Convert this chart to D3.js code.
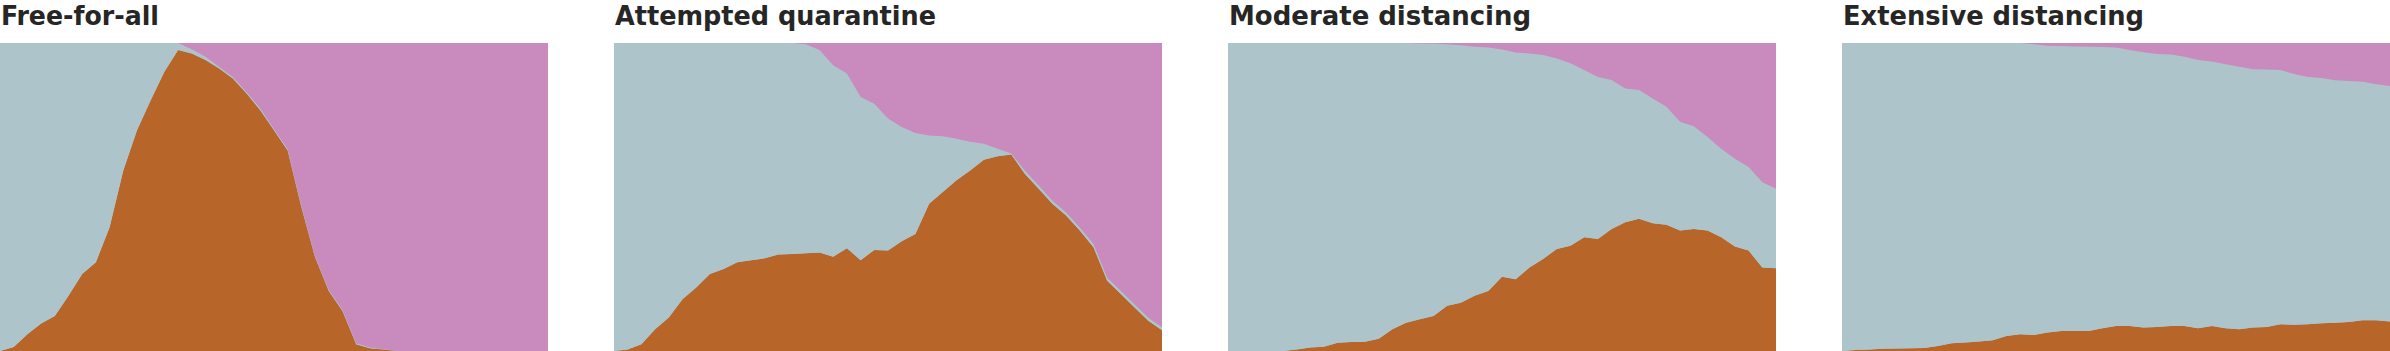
<!DOCTYPE html>
<html>
<head>
<meta charset="utf-8">
<script src="https://cdn.jsdelivr.net/npm/d3@7"></script>
<style>
  body { margin: 0; background: #fff; }
  .title { font-family: "Liberation Sans Narrow", "DejaVu Sans Condensed", sans-serif; font-weight: bold; fill: #262626; }
</style>
</head>
<body>
<div id="chart"></div>
<script>
// scenario titles
const titles = ["Free-for-all", "Attempted quarantine", "Moderate distancing", "Extensive distancing"];

// share of population that is sick, per time step
const sickFree = [0, .013, .054, .089, .114, .179, .25, .288, .402, .586, .717, .814, .907, .977, .966, .945, .917, .885, .836, .782, .717, .651, .467, .304, .195, .13, .022, .009, .005, 0, 0, 0, 0, 0, 0, 0, 0, 0, 0, 0, 0];
const sickQuarantine = [0, .005, .022, .071, .109, .168, .206, .25, .266, .288, .295, .301, .313, .315, .317, .32, .306, .334, .295, .328, .326, .356, .38, .478, .516, .554, .586, .621, .632, .638, .575, .527, .478, .44, .391, .337, .228, .185, .141, .098, .067];
const sickModerate = [0, 0, 0, 0, 0, .005, .011, .014, .027, .029, .03, .04, .071, .092, .103, .114, .147, .157, .179, .195, .241, .233, .271, .299, .331, .342, .369, .364, .396, .418, .429, .415, .41, .391, .396, .391, .369, .339, .326, .271, .269];
const sickExtensive = [0, .003, .005, .007, .008, .009, .01, .016, .025, .028, .031, .035, .049, .054, .052, .06, .065, .065, .065, .074, .081, .081, .076, .078, .081, .081, .074, .081, .074, .071, .076, .078, .087, .085, .087, .09, .092, .094, .1, .1, .096];

// share of population that has recovered, per time step
const recFree = [0, 0, 0, 0, 0, 0, 0, 0, 0, 0, 0, 0, 0, 0, .02, .045, .078, .11, .16, .213, .279, .345, .53, .693, .802, .867, .975, .989, .994, 1, 1, 1, 1, 1, 1, 1, 1, 1, 1, 1, 1];
const recQuarantine = [0, 0, 0, 0, 0, 0, 0, 0, 0, 0, 0, 0, 0, 0, .004, .023, .072, .099, .175, .197, .245, .273, .292, .3, .303, .311, .321, .327, .343, .359, .415, .463, .512, .55, .599, .653, .762, .805, .849, .892, .923];
const recModerate = [0, 0, 0, 0, 0, 0, 0, 0, 0, 0, 0, 0, 0, 0, .002, .002, .004, .007, .012, .015, .021, .031, .034, .039, .05, .066, .088, .11, .12, .148, .153, .18, .207, .256, .27, .305, .343, .376, .403, .452, .473];
const recExtensive = [0, 0, 0, 0, 0, 0, 0, 0, 0, 0, 0, 0, 0, 0, .004, .009, .01, .011, .012, .013, .015, .023, .03, .036, .037, .045, .055, .06, .069, .077, .085, .086, .088, .101, .11, .114, .121, .123, .126, .134, .14];

const sickSeries = [sickFree, sickQuarantine, sickModerate, sickExtensive];
const recSeries = [recFree, recQuarantine, recModerate, recExtensive];

const keys = ["sick", "healthy", "recovered"];
const colors = { sick: "#b8652a", healthy: "#adc5ca", recovered: "#c98abd" };
const titleWidths = [158, 321, 302, 301];

const width = 2390, height = 351;
const panelW = 548, gap = 66;
const plotTop = 43;

const svg = d3.select("#chart").append("svg")
  .attr("width", width)
  .attr("height", height);

const y = d3.scaleLinear().domain([0, 1]).range([height, plotTop]);

titles.forEach((title, k) => {
  const x0 = k * (panelW + gap);
  const sick = sickSeries[k], rec = recSeries[k];
  const rows = sick.map((s, i) => ({ t: i, sick: s, recovered: rec[i], healthy: Math.max(0, 1 - s - rec[i]) }));

  const x = d3.scaleLinear().domain([0, rows.length - 1]).range([x0, x0 + panelW]);
  const stacked = d3.stack().keys(keys)(rows);

  const area = d3.area()
    .x((d) => x(d.data.t))
    .y0((d) => y(d[0]))
    .y1((d) => y(d[1]));

  const g = svg.append("g");

  // healthy background so the stack has no gaps
  g.append("rect")
    .attr("x", x0).attr("y", plotTop)
    .attr("width", panelW).attr("height", height - plotTop)
    .attr("fill", colors.healthy);

  g.selectAll("path")
    .data(stacked)
    .join("path")
    .attr("fill", (d) => colors[d.key])
    .attr("d", area);

  svg.append("text")
    .attr("class", "title")
    .attr("x", x0 + 1)
    .attr("y", 25)
    .attr("font-size", 26)
    .attr("textLength", titleWidths[k])
    .attr("lengthAdjust", "spacingAndGlyphs")
    .text(title);
});
</script>
</body>
</html>
